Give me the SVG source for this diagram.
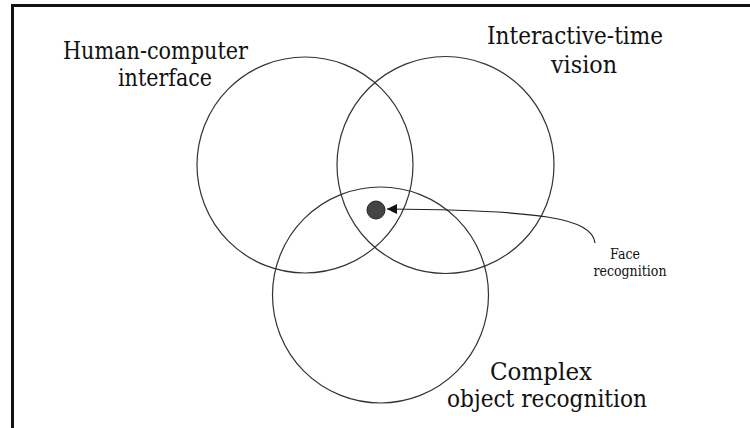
<svg xmlns="http://www.w3.org/2000/svg" width="750" height="428" viewBox="0 0 750 428">
<style>
.c{fill:none;stroke:#333;stroke-width:1.2}
text{font-family:"DejaVu Serif","Liberation Serif",serif;fill:#111;text-anchor:middle}
.big{font-size:24px}
.small{font-size:15px}
</style>
<defs>
<marker id="ah" viewBox="0 0 10 10" refX="10" refY="5" markerWidth="16" markerHeight="10" markerUnits="userSpaceOnUse" orient="auto">
<path d="M0,0 L10,5 L0,10 z" fill="#111"/>
</marker>
</defs>
<rect width="750" height="428" fill="#fff"/>
<g id="frame">
<path d="M12.5,428 V5.5 H750" fill="none" stroke="#111" stroke-width="3"/>
</g>
<g id="hci">
<circle class="c" cx="305" cy="165" r="108"/>
<text class="big" x="155.5" y="59" textLength="185" lengthAdjust="spacingAndGlyphs">Human-computer</text>
<text class="big" x="165" y="86" textLength="94" lengthAdjust="spacingAndGlyphs">interface</text>
</g>
<g id="itv">
<circle class="c" cx="445.5" cy="165" r="108.5"/>
<text class="big" x="575" y="44" textLength="176" lengthAdjust="spacingAndGlyphs">Interactive-time</text>
<text class="big" x="584" y="73" textLength="66" lengthAdjust="spacingAndGlyphs">vision</text>
</g>
<g id="cor">
<circle class="c" cx="380.5" cy="295" r="108"/>
<text class="big" x="541" y="380" textLength="102" lengthAdjust="spacingAndGlyphs">Complex</text>
<text class="big" x="547" y="407" textLength="200" lengthAdjust="spacingAndGlyphs">object recognition</text>
</g>
<g id="face">
<circle cx="376" cy="210" r="9" fill="#444" stroke="#222" stroke-width="1"/>
<text class="small" x="625" y="259" textLength="30" lengthAdjust="spacingAndGlyphs">Face</text>
<text class="small" x="630" y="276" textLength="73" lengthAdjust="spacingAndGlyphs">recognition</text>
</g>
<g id="connectors">
<path d="M595,243 C592,218 540,210 387,209" fill="none" stroke="#222" stroke-width="1.2" marker-end="url(#ah)"/>
</g>
</svg>
